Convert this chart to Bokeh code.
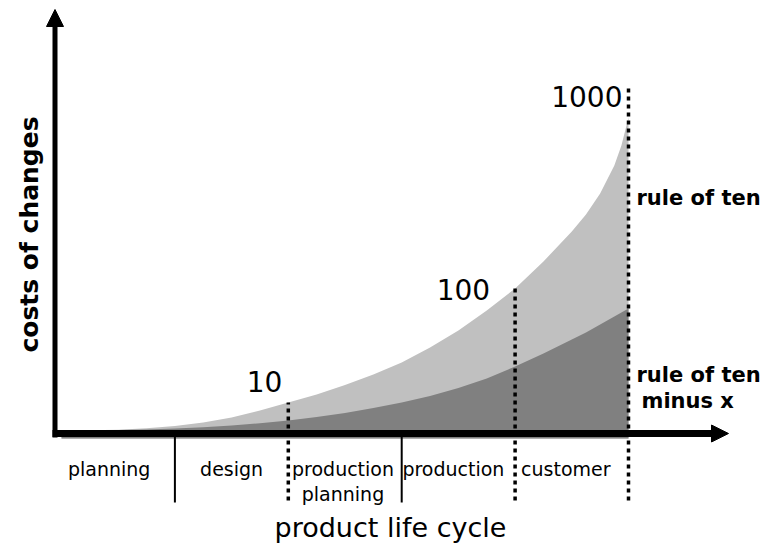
import numpy as np
from bokeh.plotting import figure
from bokeh.models import Range1d, Arrow, NormalHead
from bokeh.core.properties import value
from bokeh.embed import file_html
from bokeh.resources import INLINE

# ---------------- data ----------------
# position along the product life cycle, in phase units (phase boundaries at 1..5)
stage_x = [0, 0.25, 0.5, 0.75, 1.0, 1.25, 1.5, 1.75, 2.0, 2.25, 2.5, 2.75,
           3.0, 3.25, 3.5, 3.75, 4.0, 4.25, 4.5, 4.625, 4.75, 4.875, 4.9375, 5.0]
# relative costs of changes (arbitrary units)
rule_of_ten = [0, 0.2, 0.8, 2.2, 4.5, 8, 13, 20, 28, 36, 45.5, 56,
               68, 83, 100, 120, 142, 169, 199, 216, 237, 265, 285, 313]
rule_of_ten_minus_x = [0, 0.1, 0.4, 1, 2, 3.3, 5, 7.2, 10, 13.5, 17.5, 22.5,
                       28, 34.5, 42.5, 52, 64, 77, 91, 98, 106, 114, 118, 122]

phase_labels = ["planning", "design", "production\nplanning", "production", "customer"]
phase_bounds = [0, 1, 2, 3, 4, 5]
solid_bounds = [1, 3]
milestone_bounds = [2, 4, 5]
milestone_labels = ["10", "100", "1000"]
series_labels = ["rule of ten", "rule of ten\nminus x"]
x_title = "product life cycle"
y_title = "costs of changes"

# ---------------- layout helpers (pixels -> data) ----------------
W, H = 763, 545
X0_PX, UNIT_PX, BASE_PX = 61.0, 113.4, 430.0


def ux(px):
    return (px - X0_PX) / UNIT_PX


def hy(py):
    return BASE_PX - py


def dpx(px):
    return px / UNIT_PX


LIGHT = "#c0c0c0"
DARK = "#808080"
FONT = value("DejaVu Sans")

p = figure(width=W, height=H,
           x_range=Range1d(ux(0), ux(W)), y_range=Range1d(hy(H), hy(0)),
           x_axis_type=None, y_axis_type=None,
           toolbar_location=None, output_backend="svg",
           min_border=0, outline_line_color=None)
p.xgrid.visible = False
p.ygrid.visible = False
p.background_fill_color = "white"
p.border_fill_color = "white"

# ---------------- filled areas ----------------
base = hy(438)
p.varea(x=stage_x, y1=base, y2=rule_of_ten, fill_color=LIGHT)
p.varea(x=stage_x, y1=base, y2=rule_of_ten_minus_x, fill_color=DARK)

# ---------------- dotted milestone lines ----------------
tops = [float(np.interp(b, stage_x, rule_of_ten)) for b in milestone_bounds]
tops[-1] += 30
p.segment(x0=milestone_bounds, y0=[hy(500)] * len(milestone_bounds),
          x1=milestone_bounds, y1=tops,
          line_color="black", line_width=3.5, line_dash="4 4")

# solid phase separators
p.segment(x0=solid_bounds, y0=[hy(502)] * len(solid_bounds),
          x1=solid_bounds, y1=[hy(433)] * len(solid_bounds),
          line_color="black", line_width=2)

# ---------------- axes with arrow heads ----------------
p.segment(x0=[ux(52)], y0=[hy(433)], x1=[ux(716)], y1=[hy(433)],
          line_color="black", line_width=7)
p.segment(x0=[ux(54.5)], y0=[hy(437)], x1=[ux(54.5)], y1=[hy(22)],
          line_color="black", line_width=5)
p.add_layout(Arrow(x_start=ux(690), y_start=hy(433), x_end=ux(728), y_end=hy(433),
                   line_alpha=0,
                   end=NormalHead(size=17, fill_color="black", line_color="black")))
p.add_layout(Arrow(x_start=ux(54.5), y_start=hy(60), x_end=ux(54.5), y_end=hy(9),
                   line_alpha=0,
                   end=NormalHead(size=17, fill_color="black", line_color="black")))

# ---------------- phase labels ----------------
mid = [((phase_bounds[i] if i > 0 else ux(57)) + phase_bounds[i + 1]) / 2
       for i in range(len(phase_labels))]
label_dx = [-7, 0, -2, -5, -6]
lx, ly, lt = [], [], []
for m, dx, lab in zip(mid, label_dx, phase_labels):
    for k, line in enumerate(lab.split("\n")):
        lx.append(m + dpx(dx))
        ly.append(hy(468 + 25 * k))
        lt.append(line)
p.text(x=lx, y=ly, text=lt, text_font=FONT, text_font_size="19px",
       text_align="center", text_baseline="alphabetic", text_color="black")

# ---------------- milestone numbers ----------------
num_dx = [6, 25, 6]
num_base = [381, 289, 96]
p.text(x=[b - dpx(d) for b, d in zip(milestone_bounds, num_dx)],
       y=[hy(v) for v in num_base], text=milestone_labels,
       text_font=FONT, text_font_size="28px",
       text_align="right", text_baseline="alphabetic", text_color="black")

# ---------------- series labels ----------------
sx, sy, st = [], [], []
ser_pos = [(636, 197), (636, 374)]
for (px_, py_), lab in zip(ser_pos, series_labels):
    for k, line in enumerate(lab.split("\n")):
        sx.append(ux(px_ + 5 * k))
        sy.append(hy(py_ + 26 * k))
        st.append(line)
p.text(x=sx, y=sy, text=st, text_font=FONT, text_font_size="21px",
       text_font_style="bold", text_align="left", text_baseline="alphabetic",
       text_color="black")

# ---------------- axis titles ----------------
p.text(x=[ux(390)], y=[hy(527)], text=[x_title], text_font=FONT,
       text_font_size="27px", text_align="center", text_baseline="alphabetic",
       text_color="black")
p.text(x=[ux(29)], y=[hy(234)], text=[y_title], text_font=FONT,
       text_font_size="25px", text_font_style="bold", angle=np.pi / 2,
       text_align="center", text_baseline="middle", text_color="black")

open("out.html", "w").write(file_html(p, INLINE))
